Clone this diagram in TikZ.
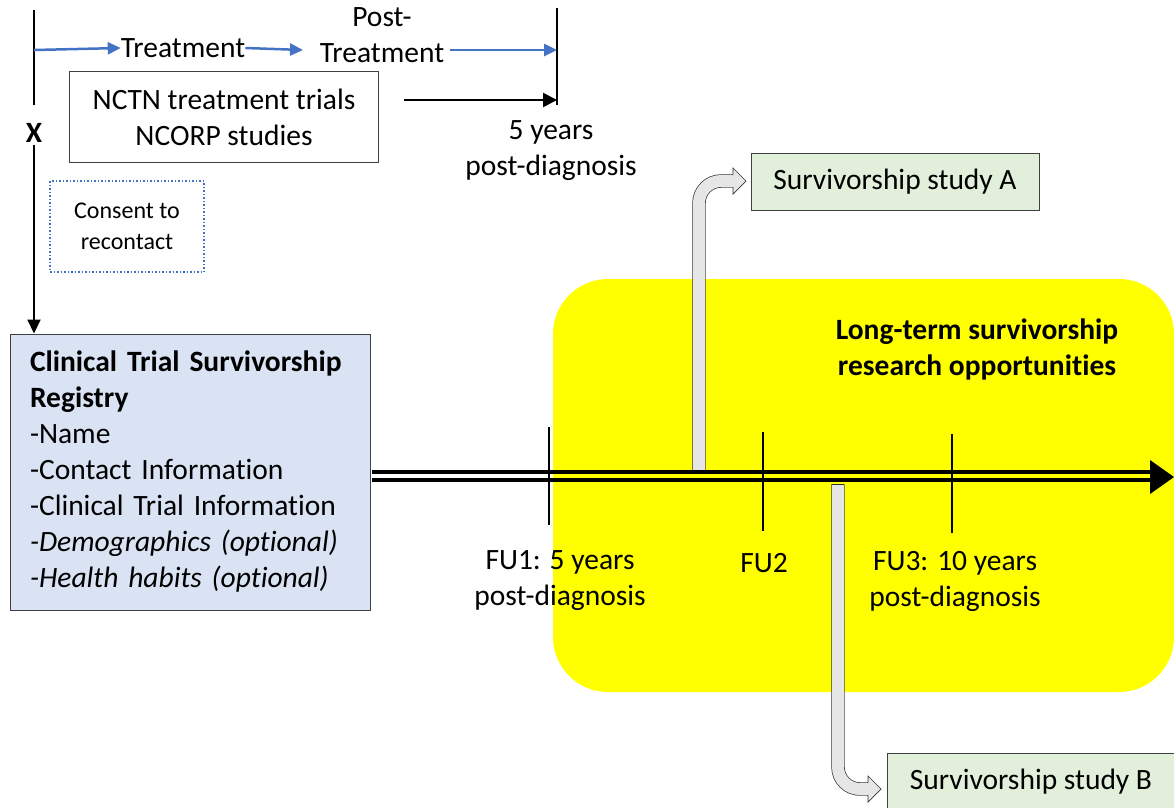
\documentclass[tikz,border=0pt]{standalone}
\usepackage{fontspec}
\setmainfont{Carlito}[Ligatures=NoCommon]
\usetikzlibrary{arrows.meta}

\definecolor{regblue}{RGB}{218,227,243}
\definecolor{studygreen}{RGB}{226,239,218}
\definecolor{arrowblue}{RGB}{68,114,196}
\definecolor{shaftgray}{RGB}{230,230,230}
\definecolor{boxgray}{RGB}{64,64,64}
\definecolor{hiyellow}{RGB}{255,255,0}

\newcommand{\bodyfont}{\fontsize{29.5}{36}\selectfont}
\newcommand{\smallfont}{\fontsize{24}{31}\selectfont}

\begin{document}
\begin{tikzpicture}[x=1pt,y=1pt,yscale=-1,
  txt/.style={font=\bodyfont, align=center, inner sep=0pt},
  plainbox/.style={draw=boxgray, line width=1pt, font=\bodyfont, align=center},
  studybox/.style={draw=boxgray, line width=1pt, fill=studygreen, font=\bodyfont, minimum width=288pt, minimum height=57pt},
  bluearrow/.style={draw=arrowblue, line width=2.5pt, -{Triangle[length=13pt,width=12pt]}},
  blackarrow/.style={draw=black, line width=2.5pt, -{Triangle[length=14pt,width=14pt]}},
  shaft/.style={draw=black!80, line width=0.7pt, double=shaftgray, double distance=12pt, rounded corners=22pt},
  head/.style={fill=shaftgray, draw=black!80, line width=0.7pt},
  timeline/.style={line width=3.6pt},
  tick/.style={line width=2pt}]
\useasboundingbox (0,0) rectangle (1174,807);

%Long-term opportunities
\fill[hiyellow, rounded corners=55pt] (553,279) rectangle (1174,692);
\node[txt, font=\bodyfont\bfseries] (longterm) at (977,349) {Long-term survivorship\\research opportunities};

%Diagnosis line and X
\coordinate (diag) at (34,10);
\node[font=\bodyfont\bfseries, inner sep=2pt] (X) at (34,133) {X};
\draw[line width=2pt] (diag) -- (34,105);

%5 years line
\coordinate (fiveTop) at (557,8);
\coordinate (fiveBot) at (557,105);
\draw[line width=2pt] (fiveTop) -- (fiveBot);

%Treatment phases
\coordinate (phase) at (34,50);
\node[txt] (treat) at (183,48) {Treatment};
\node[txt] (post) at (382,35) {Post-\\Treatment};
\draw[bluearrow] (phase) -- (treat.west);
\draw[bluearrow] (treat.east) -- (303,50);
\draw[bluearrow] (450,50) -- (phase -| fiveTop);

%Trials box
\node[plainbox, minimum width=309pt, minimum height=91pt] (trials) at (224,117) {NCTN treatment trials\\NCORP studies};
\coordinate (fiveArrow) at (404,100);
\draw[blackarrow] (fiveArrow) -- (fiveArrow -| fiveTop);
\node[txt] (fiveyears) at (551,151) {5 years\\post-diagnosis};

%Consent
\node[draw=arrowblue, dotted, line width=1.5pt, minimum width=154pt, minimum height=91pt, font=\smallfont, align=center] (consent) at (127,226.5) {Consent to\\recontact};

%Registry
\node[draw=boxgray, line width=1pt, fill=regblue, text width=320pt, inner xsep=20pt, minimum height=276pt, align=left, font=\bodyfont] (reg) at (190,472) {\textbf{Clinical Trial Survivorship}\\\textbf{Registry}\\-Name\\-Contact Information\\-Clinical Trial Information\\\textit{-Demographics (optional)}\\\textit{-Health habits (optional)}};
\draw[line width=2pt, -{Triangle[length=14pt,width=13pt]}] (X.south) -- (X |- reg.north);

%Survivorship studies
\node[studybox] (studyA) at (895,181.5) {Survivorship study A};
\node[studybox] (studyB) at (1031,781.5) {Survivorship study B};

%Study A arrow
\coordinate (aFoot) at (699,470);
\coordinate (aBend) at (699,181);
\draw[shaft] (aFoot) -- (aBend) -- (734,181);
\filldraw[head] (733,175) -- (733,168) -- (746,181) -- (733,194) -- (733,187);

%Study B arrow
\coordinate (bFoot) at (838,484);
\coordinate (bBend) at (838,789);
\draw[shaft] (bFoot) -- (bBend) -- (869,789);
\draw[head] (832,484) -- (844,484);
\filldraw[head] (868,783) -- (868,776) -- (881,789) -- (868,802) -- (868,795);

%Timeline
\coordinate (tlStart) at (372,476);
\coordinate (tlEnd) at (1152,476);
\draw[timeline] ([yshift=3.75pt]tlStart) -- ([yshift=3.75pt]tlEnd);
\draw[timeline] ([yshift=-3.75pt]tlStart) -- ([yshift=-3.75pt]tlEnd);
\fill (1150,460) -- (1174,477) -- (1150,494) -- cycle;
\foreach \x/\t/\b in {549/427/525, 763/432/531, 952/434/533}
  \draw[tick] (\x,\t) -- (\x,\b);

%Follow-ups
\node[txt] (fu1) at (560,581) {FU1: 5 years\\post-diagnosis};
\node[txt] (fu2) at (764,563) {FU2};
\node[txt] (fu3) at (955,581) {FU3: 10 years\\post-diagnosis};

\end{tikzpicture}
\end{document}
